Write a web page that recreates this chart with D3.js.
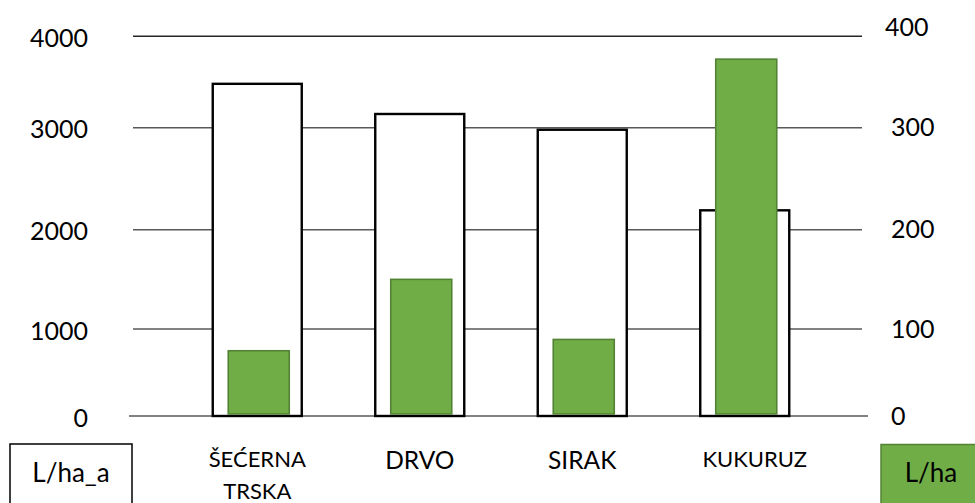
<!DOCTYPE html>
<html>
<head>
<meta charset="utf-8">
<script src="https://cdn.jsdelivr.net/npm/d3@7/dist/d3.min.js"></script>
<style>
  html, body { margin: 0; padding: 0; background: #fff; }
  svg { display: block; font-family: Lato, "Noto Sans", sans-serif; }
</style>
</head>
<body>
<svg id="chart" width="975" height="503"></svg>
<script>
// ---- data ----
const categories = ["ŠEĆERNA TRSKA", "DRVO", "SIRAK", "KUKURUZ"];
const litersPerHaA = [3480, 3150, 2980, 2190];   // left axis, white bars
const litersPerHa  = [75, 150, 88, 375];          // right axis, green bars
const leftTicks  = [0, 1000, 2000, 3000, 4000];
const rightTicks = [0, 100, 200, 300, 400];
const legendLeft = "L/ha_a";
const legendRight = "L/ha";

// ---- layout ----
const svg = d3.select("#chart");
const gridRange = [416, 329, 229.7, 127.7, 36.3];
const yL = d3.scaleLinear().domain(leftTicks).range(gridRange);
const yR = d3.scaleLinear().domain(rightTicks).range(gridRange);
const x = d3.scaleBand().domain(categories).range([176, 826]).padding(0);
const whiteW = 89, greenW = 61;
const green = "#70AD47", greenDark = "#548235";

// gridlines
svg.append("g").selectAll("line")
  .data(leftTicks)
  .join("line")
  .attr("x1", d => d === 0 ? 129 : 133)
  .attr("x2", d => d === 0 ? 868 : 862)
  .attr("y1", d => yL(d))
  .attr("y2", d => yL(d))
  .attr("stroke", d => d === 4000 ? "#262626" : "#595959")
  .attr("stroke-width", 1.4);

// white bars
svg.append("g").selectAll("rect")
  .data(categories)
  .join("rect")
  .attr("x", d => x(d) + x.bandwidth() / 2 - whiteW / 2)
  .attr("width", whiteW)
  .attr("y", (d, i) => yL(litersPerHaA[i]))
  .attr("height", (d, i) => yL(0) - yL(litersPerHaA[i]))
  .attr("fill", "#fff")
  .attr("stroke", "#000")
  .attr("stroke-width", 2.4);

// green bars
svg.append("g").selectAll("rect")
  .data(categories)
  .join("rect")
  .attr("x", d => x(d) + x.bandwidth() / 2 - greenW / 2 + 1.5)
  .attr("width", greenW)
  .attr("y", (d, i) => yR(litersPerHa[i]))
  .attr("height", (d, i) => yR(0) - yR(litersPerHa[i]) - 2)
  .attr("fill", green)
  .attr("stroke", greenDark)
  .attr("stroke-width", 1.6);

// left axis
const axL = svg.append("g")
  .attr("transform", "translate(88,0)")
  .call(d3.axisLeft(yL).tickValues(leftTicks).tickSize(0).tickPadding(0).tickFormat(d3.format("d")));
axL.select(".domain").remove();
axL.selectAll("text")
  .attr("font-family", "Lato, 'Noto Sans', sans-serif")
  .attr("font-size", 25)
  .attr("fill", "#000")
  .attr("dy", "0.4em");

// right axis
const axR = svg.append("g")
  .attr("transform", "translate(891,0)")
  .call(d3.axisRight(yR).tickValues(rightTicks).tickSize(0).tickPadding(0).tickFormat(d3.format("d")));
axR.select(".domain").remove();
axR.selectAll("text")
  .attr("font-family", "Lato, 'Noto Sans', sans-serif")
  .attr("font-size", 25)
  .attr("fill", "#000")
  .attr("dx", d => d === 400 ? -6 : 0)
  .attr("dy", d => d === 400 ? "-0.05em" : "0.32em");

// category labels
const labels = svg.append("g").selectAll("text")
  .data(categories)
  .join("text")
  .attr("x", d => x(d) + x.bandwidth() / 2)
  .attr("y", d => d.length > 5 ? 466.5 : 468.5)
  .attr("text-anchor", "middle")
  .attr("font-size", d => d.length > 5 ? 22 : 24.5)
  .attr("fill", "#000");
labels.each(function(d) {
  const words = d.split(" ");
  const t = d3.select(this);
  words.forEach((w, i) => {
    t.append("tspan")
      .attr("x", x(d) + x.bandwidth() / 2 + (d === "KUKURUZ" ? 10 : 0))
      .attr("dy", i === 0 ? 0 : 32)
      .text(w);
  });
});

// legend boxes
svg.append("rect")
  .attr("x", 10).attr("y", 444).attr("width", 122).attr("height", 80)
  .attr("fill", "#fff").attr("stroke", "#000").attr("stroke-width", 1.5);
svg.append("text")
  .attr("x", 71).attr("y", 482)
  .attr("text-anchor", "middle")
  .attr("font-size", 26)
  .text(legendLeft);

svg.append("rect")
  .attr("x", 881).attr("y", 444.5).attr("width", 110).attr("height", 80)
  .attr("fill", green).attr("stroke", greenDark).attr("stroke-width", 1.5);
svg.append("text")
  .attr("x", 931).attr("y", 482)
  .attr("text-anchor", "middle")
  .attr("font-size", 26)
  .text(legendRight);
</script>
</body>
</html>
